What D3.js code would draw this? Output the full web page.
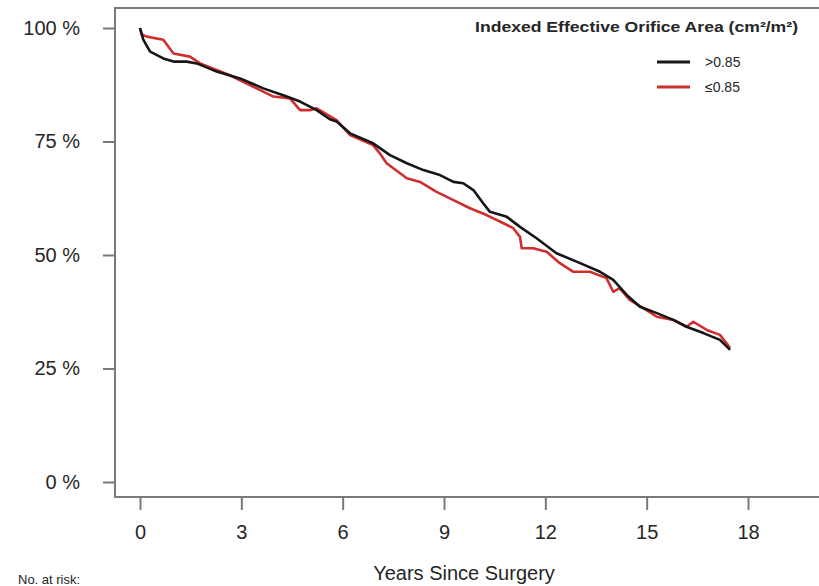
<!DOCTYPE html>
<html>
<head>
<meta charset="utf-8">
<script src="https://cdn.jsdelivr.net/npm/d3@7"></script>
<style>
  body { margin: 0; background: #fff; }
  svg { display: block; font-family: Arial, "Liberation Sans", sans-serif; }
</style>
</head>
<body>
<svg id="chart" width="819" height="586"></svg>
<script>
// survival estimates, years since surgery vs % alive
const yearsHigh = [0, 0.1, 0.3, 0.69, 0.99, 1.38, 1.68, 2.27, 2.96, 3.65, 4.24, 4.74, 5.23, 5.62, 5.82, 6.22, 6.9, 7.4, 7.9, 8.39, 8.88, 9.28, 9.57, 9.87, 10.16, 10.36, 10.86, 11.25, 11.74, 12.33, 13.03, 13.62, 14.01, 14.41, 14.8, 15.3, 15.79, 16.18, 16.68, 17.17, 17.47];
const survHigh  = [100, 97.4, 94.8, 93.3, 92.6, 92.6, 92.2, 90.4, 88.9, 86.7, 85.2, 83.8, 81.9, 79.9, 79.4, 76.8, 74.6, 72.0, 70.2, 68.7, 67.6, 66.1, 65.8, 64.3, 61.4, 59.5, 58.4, 56.2, 53.7, 50.4, 48.2, 46.3, 44.5, 41.2, 38.6, 37.2, 35.7, 34.2, 32.8, 31.3, 29.1];

const yearsLow = [0, 0.05, 0.2, 0.69, 0.99, 1.48, 1.78, 2.66, 3.45, 3.95, 4.44, 4.74, 5.03, 5.23, 5.82, 6.22, 6.9, 7.1, 7.3, 7.9, 8.29, 8.78, 9.28, 9.77, 10.26, 10.76, 11.05, 11.25, 11.3, 11.64, 12.04, 12.43, 12.83, 13.32, 13.81, 14.01, 14.2, 14.5, 14.9, 15.3, 15.79, 16.18, 16.38, 16.78, 17.17, 17.37, 17.47];
const survLow  = [100, 98.6, 98.1, 97.4, 94.4, 93.7, 92.2, 89.6, 86.7, 84.9, 84.5, 81.9, 81.9, 82.3, 79.7, 76.4, 74.2, 72.4, 70.2, 66.9, 66.1, 63.9, 62.1, 60.3, 58.8, 57.0, 55.9, 54.0, 51.5, 51.5, 50.7, 48.2, 46.3, 46.3, 44.9, 41.9, 42.7, 40.1, 38.3, 36.4, 35.7, 34.2, 35.3, 33.5, 32.4, 30.5, 29.5];

const groups = [">0.85", "≤0.85"];
const groupColors = ["#161616", "#cf2f2f"];
const yTicks = [0, 25, 50, 75, 100];
const xTicks = [0, 3, 6, 9, 12, 15, 18];

const svg = d3.select("#chart");
const grey = "#7a7a7a";
const ink = "#262626";

const x = d3.scaleLinear().domain([0, 18]).range([140, 748]);
const y = d3.scaleLinear().domain([0, 100]).range([482, 28]);

const box = { left: 115, top: 8, right: 830, bottom: 497 };

// frame
svg.append("rect")
    .attr("x", box.left).attr("y", box.top)
    .attr("width", box.right - box.left).attr("height", box.bottom - box.top)
    .attr("fill", "none").attr("stroke", grey).attr("stroke-width", 2);

const yAxis = d3.axisLeft(y).tickValues(yTicks).tickFormat(d => d + " %").tickSize(12).tickPadding(23);
const xAxis = d3.axisBottom(x).tickValues(xTicks).tickSize(13).tickPadding(15);

const gy = svg.append("g").attr("transform", `translate(${box.left},0)`).call(yAxis);
const gx = svg.append("g").attr("transform", `translate(0,${box.bottom})`).call(xAxis);

[gy, gx].forEach(g => {
    g.select(".domain").remove();
    g.selectAll(".tick line").attr("stroke", grey).attr("stroke-width", 2);
    g.selectAll(".tick text").attr("fill", ink).style("font-size", "20px")
        .style("font-family", "Arial, 'Liberation Sans', sans-serif");
});

// survival curves
const line = d3.line().x(d => x(d[0])).y(d => y(d[1])).curve(d3.curveLinear);
const series = [
    d3.zip(yearsHigh, survHigh),
    d3.zip(yearsLow, survLow)
];

// red drawn first so black sits over it where they overlap
[1, 0].forEach(i => {
    svg.append("path")
        .datum(series[i])
        .attr("fill", "none")
        .attr("stroke", groupColors[i])
        .attr("stroke-width", 2.6)
        .attr("stroke-linejoin", "round")
        .attr("d", line);
});

// legend
svg.append("text")
    .attr("x", 475).attr("y", 32)
    .attr("textLength", 323).attr("lengthAdjust", "spacingAndGlyphs")
    .style("font-size", "14px").style("font-weight", "bold").attr("fill", ink)
    .text("Indexed Effective Orifice Area (cm²/m²)");

const legend = svg.append("g");
groups.forEach((name, i) => {
    const ly = 62 + i * 25;
    legend.append("line")
        .attr("x1", 657).attr("x2", 690).attr("y1", ly).attr("y2", ly)
        .attr("stroke", groupColors[i]).attr("stroke-width", 3);
    legend.append("text")
        .attr("x", 705).attr("y", ly + 5)
        .style("font-size", "14px").attr("fill", ink)
        .text(name);
});

// axis title
svg.append("text")
    .attr("x", 464).attr("y", 580)
    .attr("text-anchor", "middle")
    .style("font-size", "20px").attr("fill", ink)
    .text("Years Since Surgery");

svg.append("text")
    .attr("x", 18).attr("y", 584)
    .style("font-size", "13px").attr("fill", ink)
    .text("No. at risk:");
</script>
</body>
</html>
